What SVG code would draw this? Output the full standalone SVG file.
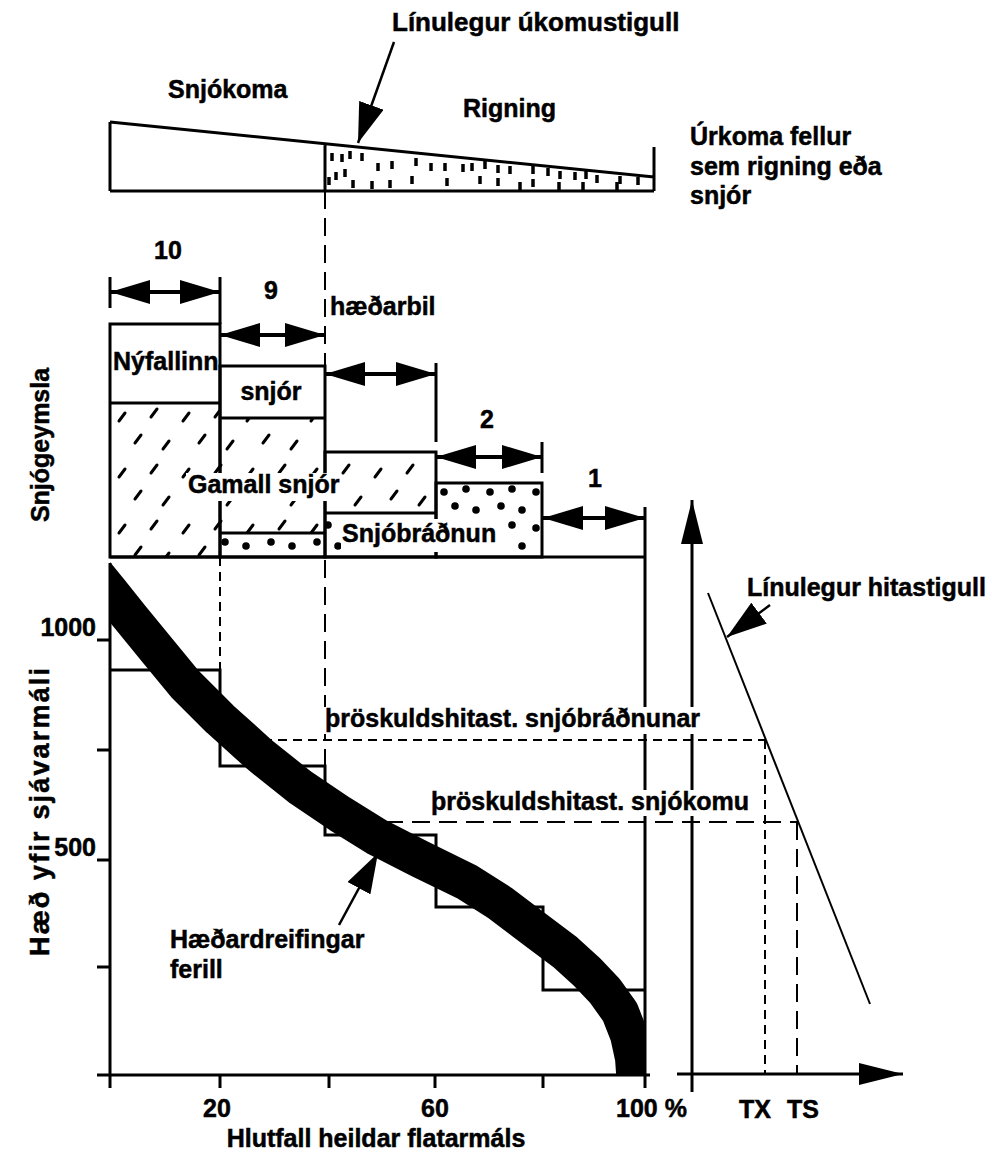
<svg xmlns="http://www.w3.org/2000/svg" width="992" height="1153" viewBox="0 0 992 1153">
<style>
.t{font-family:"Liberation Sans",Arial,Helvetica,sans-serif;font-weight:bold;font-size:25px;fill:#000;stroke:#000;stroke-width:0.5}
.ln{stroke:#000;stroke-width:3;fill:none}
.thin{stroke:#000;stroke-width:2;fill:none}
.dS{stroke:#000;stroke-width:2;fill:none;stroke-dasharray:9 6}
.dL{stroke:#000;stroke-width:2;fill:none;stroke-dasharray:18 9}
.dim{stroke:#000;stroke-width:4;fill:none;marker-start:url(#ah);marker-end:url(#ah)}
.ptr{stroke:#000;stroke-width:2.5;fill:none;marker-end:url(#ahBig)}
.rain{stroke:#000;stroke-width:3.5}
.bg{fill:#fff}
</style>
<defs>
<marker id="ah" markerUnits="userSpaceOnUse" markerWidth="40" markerHeight="24" refX="40" refY="12" orient="auto-start-reverse" viewBox="0 0 40 24">
<path d="M0,0 L40,12 L0,24 Z" fill="#000"/>
</marker>
<marker id="ahBig" markerUnits="userSpaceOnUse" markerWidth="40" markerHeight="26" refX="40" refY="13" orient="auto" viewBox="0 0 40 26">
<path d="M0,0 L40,13 L0,26 Z" fill="#000"/>
</marker>
<marker id="ahAx" markerUnits="userSpaceOnUse" markerWidth="44" markerHeight="22" refX="44" refY="11" orient="auto" viewBox="0 0 44 22">
<path d="M0,0 L44,11 L0,22 Z" fill="#000"/>
</marker>
<pattern id="hatch" patternUnits="userSpaceOnUse" width="64" height="56" x="110" y="403">
<g stroke="#000" stroke-width="3" stroke-linecap="round">
<line x1="9" y1="18" x2="15" y2="10"/>
<line x1="41" y1="14" x2="47" y2="6"/>
<line x1="25" y1="40" x2="31" y2="32"/>
<line x1="53" y1="46" x2="59" y2="38"/>
</g>
</pattern>
<pattern id="dots" patternUnits="userSpaceOnUse" width="46" height="36" x="436" y="483">
<g fill="#000">
<circle cx="8" cy="9" r="3.8"/>
<circle cx="30" cy="6" r="3.8"/>
<circle cx="19" cy="23" r="3.8"/>
<circle cx="40" cy="27" r="3.8"/>
</g>
</pattern>
<clipPath id="plotClip"><rect x="110" y="560" width="535" height="515"/></clipPath>
</defs>

<g id="precipitation">
<path class="ln" d="M110,122 L654,177 M110,191 L654,191 M110,122 L110,191 M654,147 L654,191 M325,144 L325,191"/>
<g id="rain-marks" class="rain">
<line x1="329" y1="177" x2="329" y2="185"/><line x1="332" y1="153" x2="332" y2="161"/>
<line x1="342" y1="154" x2="342" y2="162"/><line x1="350" y1="151" x2="350" y2="159"/>
<line x1="362" y1="153" x2="362" y2="161"/><line x1="336" y1="172" x2="336" y2="180"/>
<line x1="345" y1="169" x2="345" y2="177"/><line x1="353" y1="180" x2="353" y2="188"/>
<line x1="372" y1="181" x2="372" y2="189"/><line x1="378" y1="163" x2="378" y2="171"/>
<line x1="392" y1="161" x2="392" y2="169"/><line x1="390" y1="180" x2="390" y2="188"/>
<line x1="416" y1="158" x2="416" y2="166"/><line x1="412" y1="176" x2="412" y2="184"/>
<line x1="431" y1="163" x2="431" y2="171"/><line x1="445" y1="163" x2="445" y2="171"/>
<line x1="447" y1="178" x2="447" y2="186"/><line x1="463" y1="164" x2="463" y2="172"/>
<line x1="472" y1="163" x2="472" y2="171"/><line x1="480" y1="176" x2="480" y2="184"/>
<line x1="485" y1="161" x2="485" y2="169"/><line x1="498" y1="165" x2="498" y2="173"/>
<line x1="498" y1="178" x2="498" y2="186"/><line x1="510" y1="166" x2="510" y2="174"/>
<line x1="520" y1="182" x2="520" y2="190"/><line x1="533" y1="166" x2="533" y2="174"/>
<line x1="533" y1="179" x2="533" y2="187"/><line x1="548" y1="168" x2="548" y2="176"/>
<line x1="560" y1="171" x2="560" y2="179"/><line x1="559" y1="182" x2="559" y2="190"/>
<line x1="575" y1="172" x2="575" y2="180"/><line x1="586" y1="171" x2="586" y2="179"/>
<line x1="583" y1="182" x2="583" y2="190"/><line x1="597" y1="175" x2="597" y2="183"/>
<line x1="620" y1="176" x2="620" y2="184"/><line x1="617" y1="182" x2="617" y2="190"/>
<line x1="638" y1="177" x2="638" y2="185"/>
</g>
<text class="t" x="392" y="31" style="font-size:26px">Línulegur úkomustigull</text>
<text class="t" x="168" y="98">Snjókoma</text>
<text class="t" x="463" y="117">Rigning</text>
<text class="t" x="690" y="145">Úrkoma fellur</text>
<text class="t" x="690" y="175">sem rigning eða</text>
<text class="t" x="690" y="204">snjór</text>
</g>

<g id="storage-box-10">
<rect x="110" y="403" width="110" height="154" fill="url(#hatch)"/>
<rect class="ln" x="110" y="324" width="110" height="233"/>
<line class="ln" x1="110" y1="403" x2="220" y2="403"/>
<text class="t" x="113" y="370">Nýfallinn</text>
</g>
<g id="storage-box-9">
<rect x="220" y="418" width="105" height="115" fill="url(#hatch)"/>
<rect x="220" y="533" width="105" height="24" fill="url(#dots)"/>
<rect class="ln" x="220" y="366" width="105" height="191"/>
<line class="ln" x1="220" y1="418" x2="325" y2="418"/>
<line class="ln" x1="220" y1="533" x2="325" y2="533"/>
<text class="t" x="271" y="400" text-anchor="middle">snjór</text>
</g>
<g id="storage-box-3">
<rect x="325" y="452" width="111" height="61" fill="url(#hatch)"/>
<rect x="325" y="513" width="111" height="44" fill="url(#dots)"/>
<rect class="ln" x="325" y="452" width="111" height="105"/>
<line class="ln" x1="325" y1="513" x2="436" y2="513"/>
</g>
<g id="storage-box-2">
<rect x="436" y="483" width="106" height="74" fill="url(#dots)"/>
<rect class="ln" x="436" y="483" width="106" height="74"/>
</g>
<g id="storage-labels">
<line class="ln" x1="110" y1="557" x2="645" y2="557"/>
<rect class="bg" x="186" y="473" width="152" height="28"/>
<text class="t" x="188" y="493">Gamall snjór</text>
<rect class="bg" x="341" y="519" width="164" height="33"/>
<text class="t" x="342" y="542">Snjóbráðnun</text>
<text class="t" x="168" y="259" text-anchor="middle">10</text>
<text class="t" x="271" y="299" text-anchor="middle">9</text>
<text class="t" x="330" y="315">hæðarbil</text>
<text class="t" x="487" y="428" text-anchor="middle">2</text>
<text class="t" x="595" y="487" text-anchor="middle">1</text>
<text class="t" x="49" y="445" text-anchor="middle" transform="rotate(-90 49 445)">Snjógeymsla</text>
</g>

<g id="hypsometric-graph">
<line class="ln" x1="110" y1="563" x2="110" y2="1088"/>
<line class="ln" x1="97" y1="1075" x2="650" y2="1075"/>
<path class="ln" d="M97,640 H110 M97,750 H110 M97,860 H110 M97,967 H110 M220,1075 V1088 M329,1075 V1088 M435,1075 V1088 M543,1075 V1088 M645,1075 V1088"/>
<path class="ln" d="M110,670 H220 V766 H325 V835 H436 V907 H543 V990 H645"/>
<line class="ln" x1="645" y1="507" x2="645" y2="1075"/>
<polyline clip-path="url(#plotClip)" fill="none" stroke="#000" stroke-width="38" stroke-linejoin="round" points="92,570 110,592 130,617 157,650 185,684 220,719 260,755 300,787 340,814 377,837 420,859 467,882 500,903 537,931 565,952 587,972 605,991 620,1012 629,1035 634,1058 637,1100"/>
<text class="t" x="96" y="636" text-anchor="end">1000</text>
<text class="t" x="96" y="856" text-anchor="end">500</text>
<text class="t" x="217" y="1117" text-anchor="middle">20</text>
<text class="t" x="435" y="1117" text-anchor="middle">60</text>
<text class="t" x="616" y="1117">100 %</text>
<text class="t" x="376" y="1147" text-anchor="middle">Hlutfall heildar flatarmáls</text>
<text class="t" x="49" y="812" text-anchor="middle" transform="rotate(-90 49 812)" style="font-size:27px" textLength="288" lengthAdjust="spacing">Hæð yfir sjávarmáli</text>
<text class="t" x="170" y="948">Hæðardreifingar</text>
<text class="t" x="170" y="978">ferill</text>
</g>

<g id="temperature-panel">
<line class="ln" x1="692" y1="1092" x2="692" y2="500" marker-end="url(#ahAx)"/>
<line class="ln" x1="677" y1="1074" x2="903" y2="1074" marker-end="url(#ahAx)"/>
<line class="thin" x1="708" y1="593" x2="870" y2="1004"/>
<text class="t" x="747" y="596">Línulegur hitastigull</text>
<text class="t" x="755" y="1118" text-anchor="middle">TX</text>
<text class="t" x="803" y="1118" text-anchor="middle">TS</text>
</g>

<g id="connectors">
<line class="dL" x1="325" y1="191" x2="325" y2="366"/>
<line class="ln" x1="110" y1="277" x2="110" y2="308"/>
<line class="ln" x1="220" y1="277" x2="220" y2="324"/>
<line class="ln" x1="436" y1="363" x2="436" y2="442"/>
<line class="ln" x1="542" y1="442" x2="542" y2="473"/>
<line class="dim" x1="110" y1="292" x2="220" y2="292"/>
<line class="dim" x1="220" y1="335" x2="325" y2="335"/>
<line class="dim" x1="325" y1="374" x2="436" y2="374"/>
<line class="dim" x1="436" y1="457" x2="542" y2="457"/>
<line class="dim" x1="543" y1="518" x2="645" y2="518"/>
<line class="dS" x1="220" y1="557" x2="220" y2="670"/>
<line class="dL" x1="325" y1="560" x2="325" y2="766"/>
<line class="dS" x1="263" y1="740" x2="766" y2="740"/>
<line class="dL" x1="385" y1="822" x2="798" y2="822"/>
<line class="dS" x1="765" y1="740" x2="765" y2="1074"/>
<line class="dL" x1="797" y1="822" x2="797" y2="1074"/>
<line class="ptr" x1="394" y1="42" x2="358" y2="143"/>
<line class="ptr" x1="770" y1="605" x2="727" y2="637"/>
<line class="ptr" x1="339" y1="925" x2="378" y2="853"/>
<rect class="bg" x="323" y="707" width="388" height="27"/>
<text class="t" x="325" y="727">þröskuldshitast. snjóbráðnunar</text>
<rect class="bg" x="429" y="790" width="318" height="26"/>
<text class="t" x="431" y="810">þröskuldshitast. snjókomu</text>
</g>
</svg>
